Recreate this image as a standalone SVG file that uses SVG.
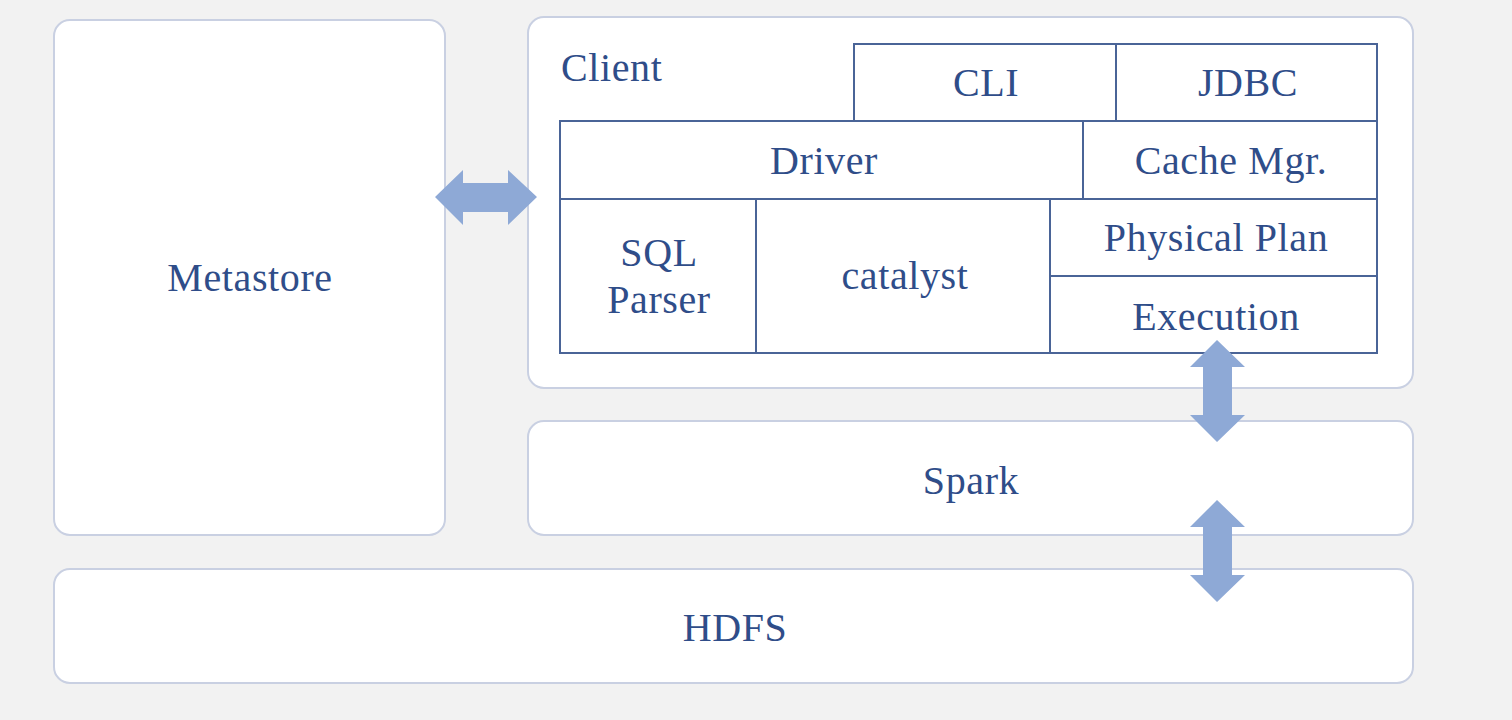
<svg xmlns="http://www.w3.org/2000/svg" width="1512" height="720" viewBox="0 0 1512 720">
<style>
.outer{fill:#ffffff;stroke:#c9d0e2;stroke-width:2}
.cell{fill:#ffffff;stroke:#4a6497;stroke-width:2}
.t{font-family:"Liberation Serif","Times New Roman",serif;font-size:40px;letter-spacing:0.6px;fill:#2f4d89;text-anchor:middle}
.arrow{fill:#8ea9d6}
</style>
<rect x="0" y="0" width="1512" height="720" fill="#f2f2f2"/>
<g id="metastore">
<rect class="outer" x="54" y="20" width="391" height="515" rx="16"/>
<text class="t" x="250" y="291">Metastore</text>
</g>
<g id="client">
<rect class="outer" x="528" y="17" width="885" height="371" rx="16"/>
<text class="t" x="561" y="81" style="text-anchor:start">Client</text>
</g>
<g id="cli">
<rect class="cell" x="854" y="44" width="262" height="77"/>
<text class="t" x="986" y="96">CLI</text>
</g>
<g id="jdbc">
<rect class="cell" x="1116" y="44" width="261" height="77"/>
<text class="t" x="1248" y="96">JDBC</text>
</g>
<g id="driver">
<rect class="cell" x="560" y="121" width="523" height="78"/>
<text class="t" x="824" y="174">Driver</text>
</g>
<g id="cache">
<rect class="cell" x="1083" y="121" width="294" height="78"/>
<text class="t" x="1231" y="174">Cache Mgr.</text>
</g>
<g id="sqlparser">
<rect class="cell" x="560" y="199" width="196" height="154"/>
<text class="t" x="659" y="266">SQL</text>
<text class="t" x="659" y="313">Parser</text>
</g>
<g id="catalyst">
<rect class="cell" x="756" y="199" width="294" height="154"/>
<text class="t" x="905" y="289">catalyst</text>
</g>
<g id="physical">
<rect class="cell" x="1050" y="199" width="327" height="77"/>
<text class="t" x="1216" y="251">Physical Plan</text>
</g>
<g id="execution">
<rect class="cell" x="1050" y="276" width="327" height="77"/>
<text class="t" x="1216" y="330">Execution</text>
</g>
<g id="spark">
<rect class="outer" x="528" y="421" width="885" height="114" rx="16"/>
<text class="t" x="971" y="494">Spark</text>
</g>
<g id="hdfs">
<rect class="outer" x="54" y="569" width="1359" height="114" rx="16"/>
<text class="t" x="735" y="641">HDFS</text>
</g>
<g id="connectors">
<polygon class="arrow" points="435,197 463,170 463,183 508,183 508,170 537,197 508,225 508,212 463,212 463,225"/>
<polygon class="arrow" points="1217,340 1245,367 1232,367 1232,415 1245,415 1217,442 1190,415 1203,415 1203,367 1190,367"/>
<polygon class="arrow" points="1217,500 1245,527 1232,527 1232,575 1245,575 1217,602 1190,575 1203,575 1203,527 1190,527"/>
</g>
</svg>
